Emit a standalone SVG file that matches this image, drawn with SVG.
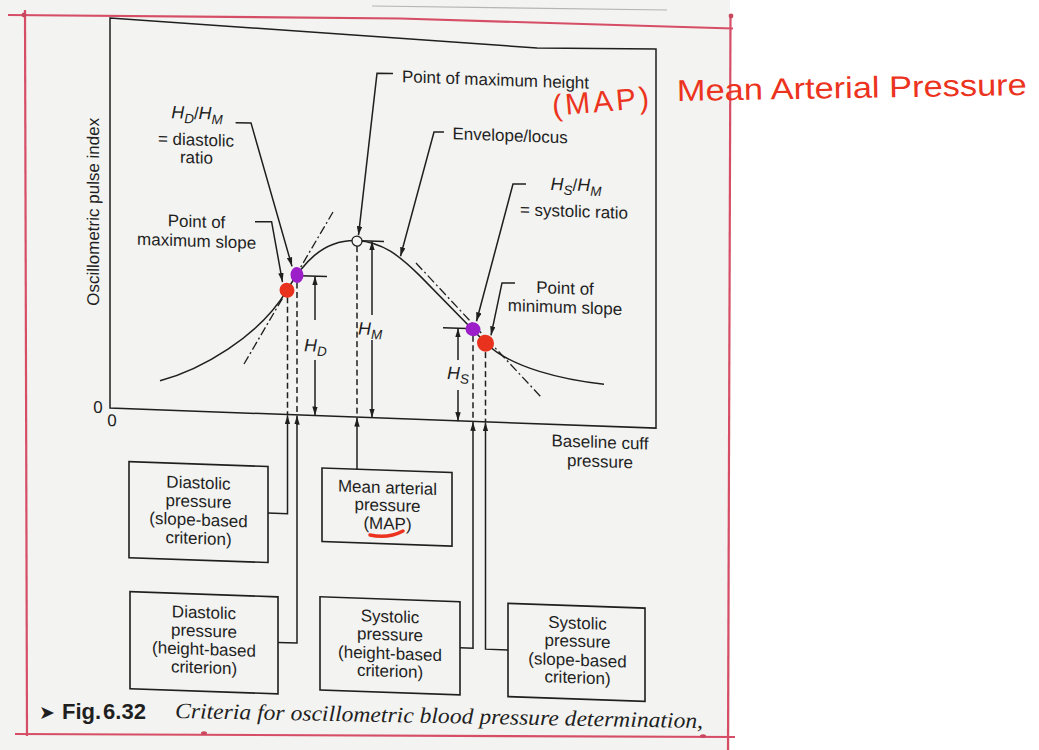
<svg xmlns="http://www.w3.org/2000/svg" width="1039" height="750" viewBox="0 0 1039 750">
<style>
.t{font-family:"Liberation Sans",Arial,Helvetica,sans-serif;font-size:17px;fill:#1f1f1f}
.m{text-anchor:middle}
.it{font-style:italic;font-size:18px}
.sb{font-size:13.5px}
.ln{fill:none;stroke:#1f1f1f;stroke-width:1.5}
.dsh{stroke-dasharray:6 3.5}
.dd{stroke-dasharray:9 3 2 3;stroke-width:1.3}
.box{fill:none;stroke:#1f1f1f;stroke-width:1.6}
.red{fill:#e8321e}
.pur{fill:#9b1ec9}
.frame{fill:none;stroke:#d64d66;stroke-width:2.2}
.hand{font-family:"Liberation Sans",Arial,sans-serif;fill:#ec3320}
</style>
<defs>
<marker id="ah" viewBox="0 0 10 6" refX="10" refY="3" markerWidth="9" markerHeight="5.4" markerUnits="userSpaceOnUse" orient="auto-start-reverse">
<path d="M0,0 L10,3 L0,6 Z" fill="#1f1f1f"/>
</marker>
</defs>

<rect width="1039" height="750" fill="#ffffff"/>
<rect x="0" y="0" width="730" height="750" fill="#f3f3f1"/>
<path d="M372,6 L667,10" stroke="#9a9a9a" stroke-width="1.2" fill="none" opacity="0.7"/>

<g id="page-frame">
<path class="frame" d="M8,15 L400,18.5 L733,28.5"/>
<path class="frame" d="M25,10 L27,736"/>
<path class="frame" d="M730.5,15 L728,750"/>
<path class="frame" d="M15,734 L735,737"/>
<circle cx="24" cy="15" r="2.4" fill="#c9485e"/>
<circle cx="731" cy="16" r="2.4" fill="#c9485e"/>
<ellipse cx="204" cy="733" rx="3" ry="1.8" fill="#c9485e"/>
<ellipse cx="703" cy="736" rx="3" ry="1.8" fill="#c9485e"/>
</g>

<g transform="matrix(1,0.035,0,1,0,-3.85)">
<g id="plot">
<path class="ln" d="M110,18 L537,33 L656,30 L656,409 L110,408 Z" stroke-width="1.6"/>
<text class="t m" transform="translate(99,212.4) rotate(-90)">Oscillometric pulse index</text>
<text class="t m" x="98" y="413.4" font-size="16">0</text>
<text class="t m" x="112" y="426" font-size="16">0</text>
<path class="ln" stroke-width="2" d="M160,379 C200,367 259,332 287,284 C302,258 322,232 357,232 C382,232 400,246 420,265 L486,330 C511,354 564,364 604,367"/>
<path class="ln dd" d="M244,359.3 L333,204.2"/>
<path class="ln dd" d="M416,252.3 L541,381.9"/>
<path class="ln dsh" d="M287.5,291 V408.3 M297,276 V408.3 M357,237.5 V408.5 M473,323 V408.7 M485.5,339 V408.7"/>
<path class="ln" d="M300,269 H327 M362,232 H384 M443,316 H467"/>
<path class="ln" marker-start="url(#ah)" d="M315,269 V312.8"/>
<path class="ln" marker-end="url(#ah)" d="M315,352.8 V408.3"/>
<path class="ln" marker-start="url(#ah)" d="M372,232 V305.8"/>
<path class="ln" marker-end="url(#ah)" d="M372,330.8 V408.5"/>
<path class="ln" marker-start="url(#ah)" d="M458,316 V347.8"/>
<path class="ln" marker-end="url(#ah)" d="M458,377.8 V409"/>
<text class="t it" x="304" y="344.5">H<tspan class="sb" dy="4">D</tspan></text>
<text class="t it" x="358" y="325.8">H<tspan class="sb" dy="4">M</tspan></text>
<text class="t it" x="447" y="367.2">H<tspan class="sb" dy="4">S</tspan></text>
<circle cx="357" cy="232.4" r="5" fill="#f6f6f4" stroke="#1f1f1f" stroke-width="1.3"/>
<circle class="red" cx="287" cy="284" r="7.5"/>
<ellipse class="pur" cx="297" cy="268.5" rx="6.5" ry="8"/>
<ellipse class="pur" cx="473" cy="316.5" rx="7.5" ry="7"/>
<circle class="red" cx="485.5" cy="330" r="8.5"/>
<text class="t" x="402" y="72">Point of maximum height</text>
<text class="t m" x="197" y="116"><tspan class="it">H</tspan><tspan class="it sb" dy="4.5">D</tspan><tspan dy="-4.5">/</tspan><tspan class="it">H</tspan><tspan class="it sb" dy="4.5">M</tspan></text>
<text class="t m" x="196" y="142.5">= diastolic</text>
<text class="t m" x="196.5" y="160.3">ratio</text>
<text class="t m" x="196.5" y="224.3">Point of</text>
<text class="t m" x="196.6" y="243.7">maximum slope</text>
<text class="t" x="452.5" y="127.3">Envelope/locus</text>
<text class="t m" x="576" y="174.5"><tspan class="it">H</tspan><tspan class="it sb" dy="4.5">S</tspan><tspan dy="-4.5">/</tspan><tspan class="it">H</tspan><tspan class="it sb" dy="4.5">M</tspan></text>
<text class="t m" x="574" y="200.8">= systolic ratio</text>
<text class="t m" x="565" y="278.1">Point of</text>
<text class="t m" x="565" y="297.1">minimum slope</text>
<text class="t m" x="600" y="430.8">Baseline cuff</text>
<text class="t m" x="600" y="450">pressure</text>
</g>

<g id="connectors">
<path class="ln" stroke-width="1.3" marker-end="url(#ah)" d="M393,63.5 L377,64 L358.5,226.5"/>
<path class="ln" stroke-width="1.3" marker-end="url(#ah)" d="M235.6,118.3 L251,118 L292,260"/>
<path class="ln" stroke-width="1.3" marker-end="url(#ah)" d="M255,216.6 L271.6,216 L282.5,276"/>
<path class="ln" stroke-width="1.3" marker-end="url(#ah)" d="M444,120.4 L434,120.7 L400.5,246"/>
<path class="ln" stroke-width="1.3" marker-end="url(#ah)" d="M526,169.4 L513,169.9 L476.5,308.5"/>
<path class="ln" stroke-width="1.3" marker-end="url(#ah)" d="M515,268.8 L502,269.2 L491,322"/>
<path class="ln" marker-end="url(#ah)" d="M268,507.5 H287.5 V409"/>
<path class="ln" marker-end="url(#ah)" d="M278,636.5 H297 V409"/>
<path class="ln" marker-end="url(#ah)" d="M357,460.6 V409"/>
<path class="ln" marker-end="url(#ah)" d="M460,635.5 H473 V409.2"/>
<path class="ln" marker-end="url(#ah)" d="M508,636 H485.5 V409.2"/>
</g>

<g id="box-diastolic-slope">
<rect class="box" x="129" y="461" width="139" height="96"/>
<text class="t m" x="198.5" y="485.5">Diastolic</text>
<text class="t m" x="198.5" y="504">pressure</text>
<text class="t m" x="198.5" y="522.5">(slope-based</text>
<text class="t m" x="198.5" y="541">criterion)</text>
</g>
<g id="box-diastolic-height">
<rect class="box" x="130" y="591" width="148" height="97"/>
<text class="t m" x="204" y="615">Diastolic</text>
<text class="t m" x="204" y="633.4">pressure</text>
<text class="t m" x="204" y="651.7">(height-based</text>
<text class="t m" x="204" y="670">criterion)</text>
</g>
<g id="box-map">
<rect class="box" x="322" y="460.6" width="130" height="73.5"/>
<text class="t m" x="387.5" y="483.6">Mean arterial</text>
<text class="t m" x="387.5" y="501.3">pressure</text>
<text class="t m" x="387.5" y="519.6">(MAP)</text>
</g>
<g id="box-systolic-height">
<rect class="box" x="320" y="589.4" width="140" height="93.3"/>
<text class="t m" x="390" y="612.5">Systolic</text>
<text class="t m" x="390" y="630.5">pressure</text>
<text class="t m" x="390" y="649.5">(height-based</text>
<text class="t m" x="390" y="667">criterion)</text>
</g>
<g id="box-systolic-slope">
<rect class="box" x="508" y="589.4" width="137" height="93.3"/>
<text class="t m" x="577.5" y="612.5">Systolic</text>
<text class="t m" x="577.5" y="630.5">pressure</text>
<text class="t m" x="577.5" y="649.5">(slope-based</text>
<text class="t m" x="577.5" y="667">criterion)</text>
</g>
</g>

<g id="caption">
<text x="39" y="719" font-family="DejaVu Sans,sans-serif" font-weight="bold" font-size="19" fill="#1f1f1f">➤</text>
<text x="62" y="719" font-family="Liberation Sans,Arial,sans-serif" font-weight="bold" font-size="22" fill="#1f1f1f">Fig.<tspan dx="2">6.32</tspan></text>
<text x="175" y="718" transform="rotate(1.1 175 718)" font-family="Liberation Serif,'Times New Roman',serif" font-style="italic" font-size="22" fill="#1f1f1f" textLength="528" lengthAdjust="spacingAndGlyphs">Criteria for oscillometric blood pressure determination,</text>
</g>

<g id="handwriting">
<path d="M370,535 Q388,539 403,531" fill="none" stroke="#ec3320" stroke-width="3.5" stroke-linecap="round"/>
<text class="hand" x="553" y="116" font-size="30" transform="rotate(-5 553 116)" textLength="97" lengthAdjust="spacing">(MAP)</text>
<text class="hand" x="677" y="101" font-size="30" transform="rotate(-1 677 101)" textLength="350" lengthAdjust="spacingAndGlyphs">Mean Arterial Pressure</text>
</g>
</svg>
